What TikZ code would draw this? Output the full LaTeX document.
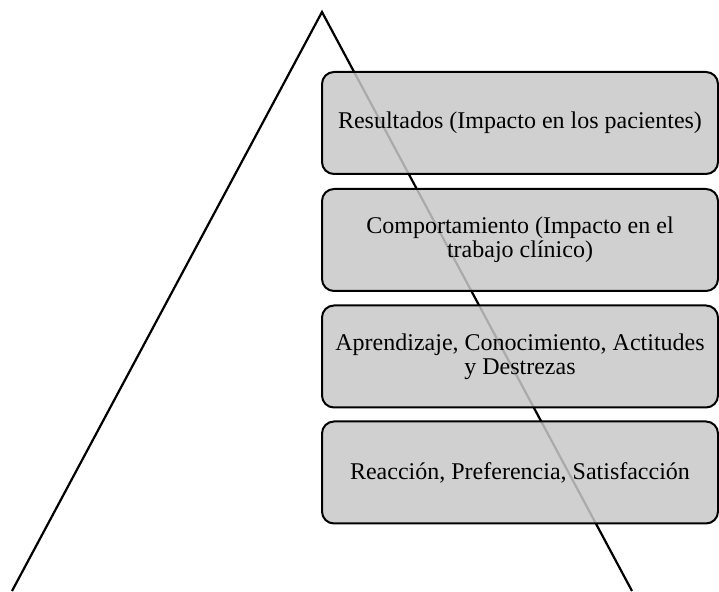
\documentclass[tikz,border=0pt]{standalone}
\usepackage{fontspec}
\setmainfont{Liberation Serif}
\usepackage{xcolor}
\usepackage{tikz}
\usetikzlibrary{positioning}

\definecolor{levelgray}{gray}{0.785}

\begin{document}
\begin{tikzpicture}[
  x=0.5pt, y=-0.5pt,
  level/.style={draw=black, line width=1pt, fill=levelgray, fill opacity=0.85,
    text opacity=1, rounded corners=6pt, minimum width=198pt, minimum height=51pt,
    align=center, inner sep=0pt, font=\fontsize{12}{12.2}\selectfont},
]
\useasboundingbox (0,0) rectangle (719,592);

% Pyramid
\coordinate (apex) at (322,12);
\coordinate (baseL) at (12,591);
\coordinate (baseR) at (632,591);
\draw[line width=1.1pt] (baseL) -- (apex) -- (baseR);

% Levels (drawn on top of the pyramid)
\node[level] (results)  at (520,123)   {Resultados (Impacto en los pacientes)};
\node[level] (behavior) at (520,240)   {Comportamiento (Impacto en el\\trabajo clínico)};
\node[level] (learning) at (520,356.5) {Aprendizaje, Conocimiento, Actitudes\\y Destrezas};
\node[level] (reaction) at (520,472.5) {Reacción, Preferencia, Satisfacción};
\end{tikzpicture}
\end{document}
